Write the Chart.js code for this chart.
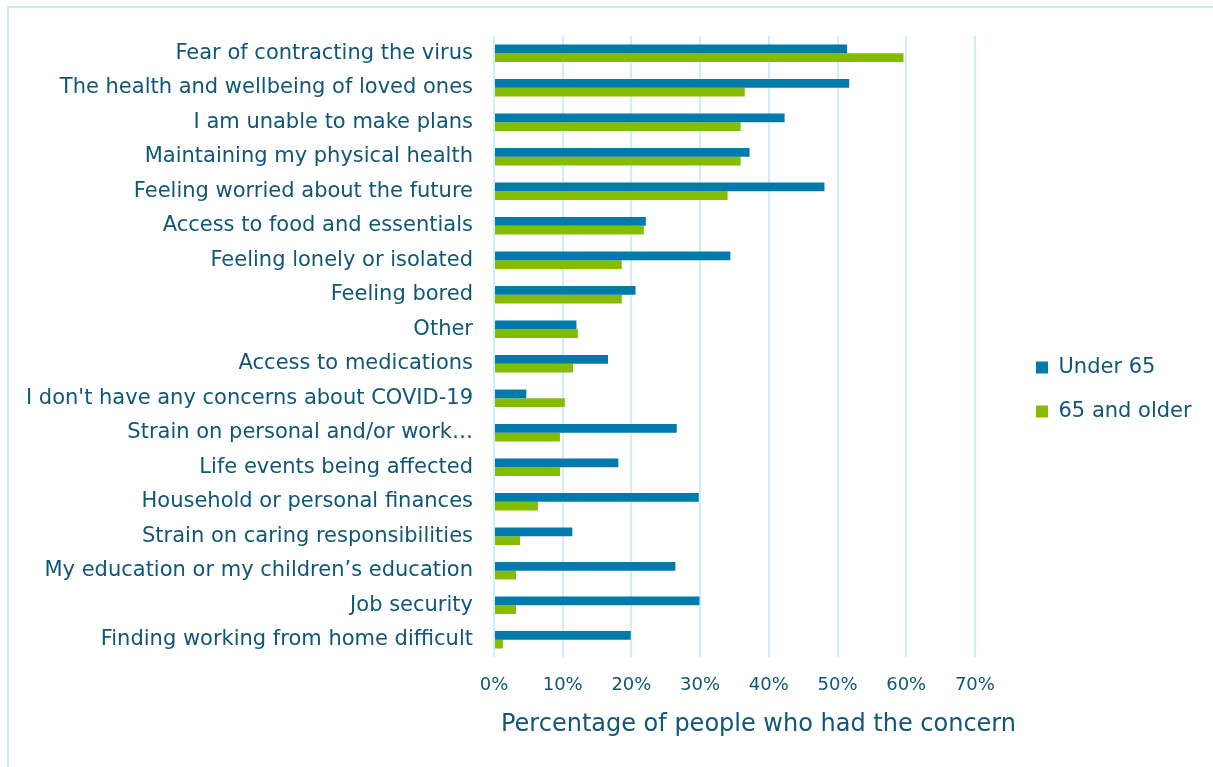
<!DOCTYPE html>
<html>
<head>
<meta charset="utf-8">
<title>COVID-19 concerns by age group</title>
<script src="https://cdn.jsdelivr.net/npm/chart.js@4.4.0/dist/chart.umd.min.js"></script>
<style>
  html, body { margin: 0; padding: 0; background: #ffffff; overflow: hidden; }
  #frame {
    position: absolute; left: 7px; top: 6px; width: 1300px; height: 900px;
    border-left: 2px solid #C6EEFB; border-top: 2px solid #C6EEFB;
  }
  #wrap { position: absolute; left: 0; top: 0; width: 1213px; height: 767px; }
</style>
</head>
<body>
<div id="frame"></div>
<div id="wrap"><canvas id="chart" width="1213" height="767"></canvas></div>
<script>
// Concerns reported, listed from most to least common among people 65 and older
const categories = [
  "Fear of contracting the virus",
  "The health and wellbeing of loved ones",
  "I am unable to make plans",
  "Maintaining my physical health",
  "Feeling worried about the future",
  "Access to food and essentials",
  "Feeling lonely or isolated",
  "Feeling bored",
  "Other",
  "Access to medications",
  "I don't have any concerns about COVID-19",
  "Strain on personal and/or work\u2026",
  "Life events being affected",
  "Household or personal finances",
  "Strain on caring responsibilities",
  "My education or my children\u2019s education",
  "Job security",
  "Finding working from home difficult"
];

// Percentage of respondents with each concern
const under65 = [51.4, 51.7, 42.3, 37.2, 48.1, 22.1, 34.4, 20.6, 12.0, 16.6, 4.7, 26.6, 18.1, 29.8, 11.4, 26.4, 29.9, 19.9];
const aged65AndOlder = [59.6, 36.5, 35.9, 35.9, 34.0, 21.8, 18.6, 18.6, 12.2, 11.5, 10.3, 9.6, 9.6, 6.4, 3.8, 3.2, 3.2, 1.3];

const seriesNames = ["Under 65", "65 and older"];
const xTickValues = [0, 10, 20, 30, 40, 50, 60, 70];

const FONT = "'DejaVu Sans', sans-serif";
const TEXT = "#105677";
const BLUE = "#0079AB";
const GREEN = "#84BC00";
const GRID = "#CCEFFB";

// Keeps the legend at a fixed width and nudges it beside the plot
const LEGEND_WIDTH = 190;
const LEGEND_DX = -10;
const LEGEND_DY = -12;
const legendPlacement = {
  id: 'legendPlacement',
  afterInit(chart) {
    const lg = chart.legend;
    const baseFit = lg.fit.bind(lg);
    lg.fit = () => { baseFit(); lg.width = LEGEND_WIDTH; };
  },
  afterLayout(chart) {
    const lg = chart.legend;
    lg.left += LEGEND_DX; lg.right += LEGEND_DX;
    lg.top += LEGEND_DY; lg.bottom += LEGEND_DY;
  }
};

new Chart(document.getElementById('chart'), {
  type: 'bar',
  data: {
    labels: categories,
    datasets: [
      { label: seriesNames[0], data: under65, backgroundColor: BLUE, borderWidth: 0,
        categoryPercentage: 0.505, barPercentage: 1 },
      { label: seriesNames[1], data: aged65AndOlder, backgroundColor: GREEN, borderWidth: 0,
        categoryPercentage: 0.505, barPercentage: 1 }
    ]
  },
  options: {
    indexAxis: 'y',
    responsive: false,
    animation: false,
    layout: { padding: { top: 36, right: 0, bottom: 0, left: 0 } },
    plugins: {
      tooltip: { enabled: false },
      legend: {
        position: 'right',
        align: 'center',
        labels: {
          boxWidth: 12, boxHeight: 12, padding: 23,
          color: TEXT, font: { family: FONT, size: 21 }
        }
      }
    },
    scales: {
      x: {
        min: 0, max: 77,
        grid: { color: GRID, lineWidth: 2, drawTicks: false },
        border: { display: false },
        afterBuildTicks(scale) { scale.ticks = xTickValues.map(v => ({ value: v })); },
        ticks: {
          padding: 18, color: TEXT, font: { family: FONT, size: 18 },
          callback: v => v + '%'
        },
        title: {
          display: true, text: 'Percentage of people who had the concern',
          color: TEXT, font: { family: FONT, size: 24 }, padding: { top: 0, bottom: 28 }
        },
        afterFit(scale) { scale.height = 110; }
      },
      y: {
        grid: { display: false, drawTicks: false },
        border: { display: false },
        ticks: {
          padding: 21, autoSkip: false, color: TEXT, font: { family: FONT, size: 21 }
        },
        afterFit(scale) { scale.width = 494; }
      }
    }
  },
  plugins: [legendPlacement]
});
</script>
</body>
</html>
